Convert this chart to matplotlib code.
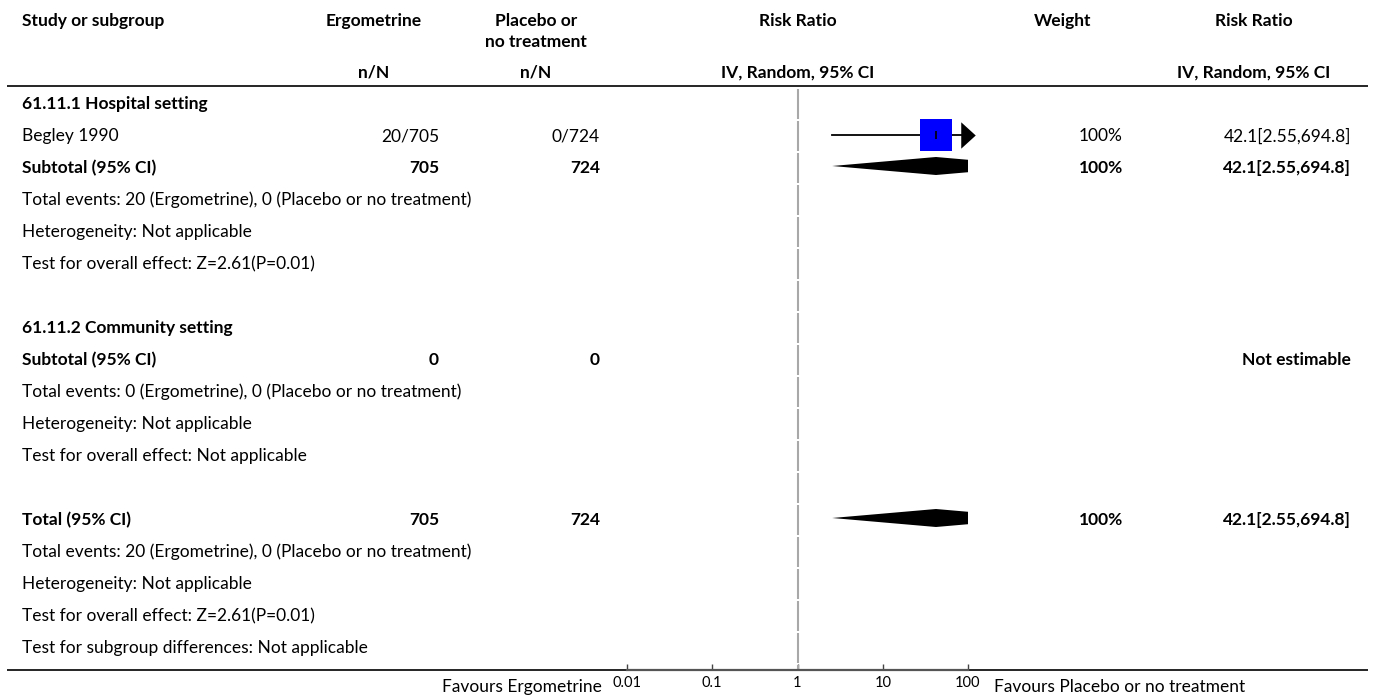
import matplotlib
matplotlib.use('Agg')
import matplotlib.pyplot as plt

# Table content, one entry per row (top to bottom)
row_labels = [
    "61.11.1 Hospital setting",
    "Begley 1990",
    "Subtotal (95% CI)",
    "Total events: 20 (Ergometrine), 0 (Placebo or no treatment)",
    "Heterogeneity: Not applicable",
    "Test for overall effect: Z=2.61(P=0.01)",
    "",
    "61.11.2 Community setting",
    "Subtotal (95% CI)",
    "Total events: 0 (Ergometrine), 0 (Placebo or no treatment)",
    "Heterogeneity: Not applicable",
    "Test for overall effect: Not applicable",
    "",
    "Total (95% CI)",
    "Total events: 20 (Ergometrine), 0 (Placebo or no treatment)",
    "Heterogeneity: Not applicable",
    "Test for overall effect: Z=2.61(P=0.01)",
    "Test for subgroup differences: Not applicable",
]
bold_rows = [0, 2, 7, 8, 13]
ergo_col = ["", "20/705", "705", "", "", "", "", "", "0", "", "", "", "", "705", "", "", "", ""]
placebo_col = ["", "0/724", "724", "", "", "", "", "", "0", "", "", "", "", "724", "", "", "", ""]
weight_col = ["", "100%", "100%", "", "", "", "", "", "", "", "", "", "", "100%", "", "", "", ""]
rr_col = ["", "42.1[2.55,694.8]", "42.1[2.55,694.8]", "", "", "", "", "", "Not estimable",
          "", "", "", "", "42.1[2.55,694.8]", "", "", "", ""]

# Forest plot marks
study_rows = [1]
study_rr = [42.1]
study_lo = [2.55]
study_hi = [694.8]
diamond_rows = [2, 13]
diamond_rr = [42.1, 42.1]
diamond_lo = [2.55, 2.55]
diamond_hi = [694.8, 694.8]

tick_vals = [0.01, 0.1, 1, 10, 100]
tick_labels = ["0.01", "0.1", "1", "10", "100"]

plt.rcParams['font.family'] = ['Lato', 'DejaVu Sans']
FS = 12.5

W, H = 1373, 696
fig = plt.figure(figsize=(W / 100, H / 100), dpi=100)
ax = fig.add_axes([0, 0, 1, 1])
ax.set_xlim(0, W)
ax.set_ylim(H, 0)
ax.axis('off')

# header
ax.text(22, 21, "Study or subgroup", fontsize=FS, fontweight='bold', va='center', ha='left')
ax.text(374, 21, "Ergometrine", fontsize=FS, fontweight='bold', va='center', ha='center')
ax.text(536, 21, "Placebo or", fontsize=FS, fontweight='bold', va='center', ha='center')
ax.text(536, 42, "no treatment", fontsize=FS, fontweight='bold', va='center', ha='center')
ax.text(798, 21, "Risk Ratio", fontsize=FS, fontweight='bold', va='center', ha='center')
ax.text(1063, 21, "Weight", fontsize=FS, fontweight='bold', va='center', ha='center')
ax.text(1254, 21, "Risk Ratio", fontsize=FS, fontweight='bold', va='center', ha='center')
ax.text(374, 73, "n/N", fontsize=FS, fontweight='bold', va='center', ha='center')
ax.text(536, 73, "n/N", fontsize=FS, fontweight='bold', va='center', ha='center')
ax.text(798, 73, "IV, Random, 95% CI", fontsize=FS, fontweight='bold', va='center', ha='center')
ax.text(1254, 73, "IV, Random, 95% CI", fontsize=FS, fontweight='bold', va='center', ha='center')

ax.plot([7, 1368], [85.5, 85.5], color='black', lw=1.2, solid_capstyle='butt')
ax.plot([7, 1368], [669.5, 669.5], color='black', lw=1.2, solid_capstyle='butt')

row_y = [104 + 32 * i for i in range(len(row_labels))]

for i, y in enumerate(row_y):
    fw = 'bold' if i in bold_rows else 'normal'
    ax.text(22, y, row_labels[i], fontsize=FS, fontweight=fw, va='center', ha='left')
    ax.text(439, y, ergo_col[i], fontsize=FS, fontweight=fw, va='center', ha='right')
    ax.text(600, y, placebo_col[i], fontsize=FS, fontweight=fw, va='center', ha='right')
    ax.text(1123, y, weight_col[i], fontsize=FS, fontweight=fw, va='center', ha='right')
    ax.text(1351, y, rr_col[i], fontsize=FS, fontweight=fw, va='center', ha='right')

# forest panel
fx0, fx1 = 627, 968
fy0, fy1 = 85, 669.5
fax = fig.add_axes([fx0 / W, (H - fy1) / H, (fx1 - fx0) / W, (fy1 - fy0) / H])
fax.patch.set_visible(False)
fax.set_xscale('log')
fax.set_xlim(0.01, 100)
fax.set_ylim(fy1, fy0)
for s in ['top', 'left', 'right']:
    fax.spines[s].set_visible(False)
fax.spines['bottom'].set_color('#555555')
fax.spines['bottom'].set_linewidth(1.6)
fax.set_yticks([])
fax.set_xticks(tick_vals)
fax.set_xticklabels(tick_labels)
fax.minorticks_off()
fax.tick_params(axis='x', direction='in', length=4, width=1, color='#444444',
                labelsize=10.5, pad=5)

# line of no effect, broken at row boundaries
seg_top = [88 + 32 * k + 1 for k in range(18)] + [665]
seg_bot = [88 + 32 * k + 31 for k in range(18)] + [669]
fax.vlines([1] * len(seg_top), seg_top, seg_bot, color='#a8a8a8', lw=1.5)

arrow = [(-0.55, -1), (0.55, 0), (-0.55, 1)]
for r, est, lo, hi in zip(study_rows, study_rr, study_lo, study_hi):
    y = row_y[r] - 1
    fax.plot([lo, min(hi, 100)], [y, y], color='black', lw=1.3, zorder=3)
    fax.plot([est], [y], marker='s', markersize=22.5, color='#0000ff', mew=0, zorder=4)
    fax.plot([est], [y], marker='|', markersize=6, color='black', mew=1.2, zorder=5)
    if hi > 100:
        fax.plot([100], [y], marker=arrow, markersize=19, color='black', mew=0,
                 clip_on=False, zorder=5)

for r, est, lo, hi in zip(diamond_rows, diamond_rr, diamond_lo, diamond_hi):
    y = row_y[r] - 2
    fax.fill([lo, est, hi, est], [y, y - 9, y, y + 9], color='black', lw=0, zorder=4)

ax.text(602, 687, "Favours Ergometrine", fontsize=FS, va='center', ha='right')
ax.text(994, 687, "Favours Placebo or no treatment", fontsize=FS, va='center', ha='left')

fig.savefig("out.png", dpi=100)
